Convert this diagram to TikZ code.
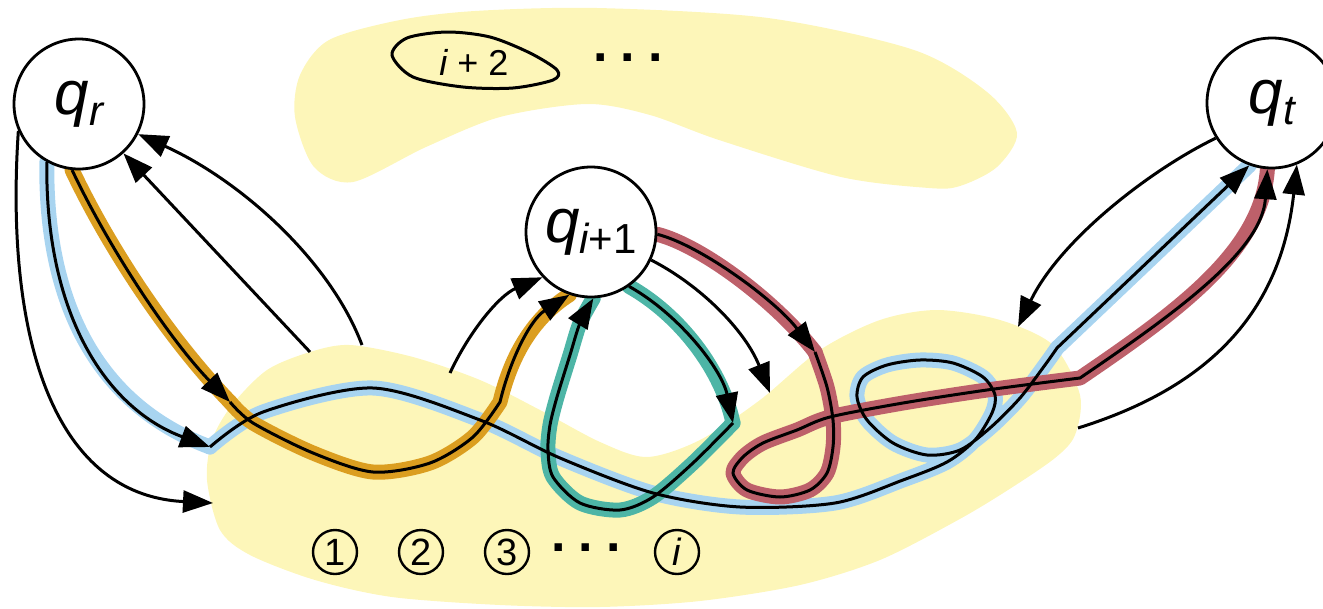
\documentclass[tikz,border=0pt]{standalone}
\usepackage{fontspec}
\setmainfont{Liberation Sans}
\usetikzlibrary{arrows.meta}
\pgfdeclarelayer{bg}
\pgfsetlayers{bg,main}
\definecolor{blobY}{RGB}{253,246,185}
\definecolor{bandB}{RGB}{168,212,240}
\definecolor{bandO}{RGB}{219,158,32}
\definecolor{bandG}{RGB}{77,181,166}
\definecolor{bandR}{RGB}{189,96,106}
\newcommand{\qlab}[1]{{\fontsize{62}{62}\selectfont\itshape q}\raisebox{-11pt}{\fontsize{42}{42}\selectfont #1}}
\tikzset{
  state/.style={circle,draw,line width=2.8pt,fill=white,minimum size=130pt,inner sep=0pt},
  num/.style={circle,draw,line width=2.4pt,minimum size=44pt,inner sep=0pt,font=\fontsize{38}{38}\selectfont},
  lab/.style={inner sep=0pt,font=\fontsize{36}{36}\selectfont},
  dotrow/.style={inner sep=0pt,font=\fontsize{52}{52}\selectfont\bfseries},
  conn/.style={line width=3pt,-{Triangle[length=30pt,width=22pt]}},
  band/.style={line width=15pt,line cap=round,line join=round},
}
\begin{document}
\begin{tikzpicture}[x=1pt,y=-1pt]
\useasboundingbox (0,0) rectangle (1323,608);
% states
\node[state] (qr) at (79,104) {\qlab{\itshape r}};
\node[state] (qi) at (591,232) {\qlab{{\itshape i}+1}};
\node[state] (qt) at (1272,103) {\qlab{\itshape t}};
% free ends
\coordinate (c1) at (310,352);
\coordinate (c2) at (362,345);
\coordinate (c3) at (213,503);
\coordinate (c4) at (450,373);
\coordinate (c5) at (770,393);
\coordinate (c6) at (1018,327);
\coordinate (c7) at (1078,428);
\coordinate (kb) at (210,447);
\coordinate (ko) at (230,402);
\coordinate (kg) at (733,423);
\coordinate (kr) at (815,352);
% labels
\node[num] (n1) at (335,552) {1};
\node[num] (n2) at (421,552) {2};
\node[num] (n3) at (507,552) {3};
\node[dotrow] (d1) at (586,548) {.\hspace{13pt}.\hspace{13pt}.};
\node[num] (ni) at (677,552) {\itshape i};
\node[lab] (i2) at (474,62) {{\itshape i} + 2};
\node[dotrow] (d2) at (628,58) {.\hspace{13pt}.\hspace{13pt}.};
\draw[line width=3pt] plot[smooth cycle] coordinates {(392,55) (407,38) (447,32) (490,37) (530,53) (557,70) (553,80) (513,88) (463,87) (413,77)};
% paths
\def\pBlueA{(qr.241) .. controls (45,320) and (110,410) .. (kb)}
\def\pBlueB{plot[smooth] coordinates {(kb) (263,412) (373,388) (480,420) (560,458) (653,493) (740,507) (835,503) (903,480) (947,462) (975,440) (992,413) (995,395) (983,377) (953,363) (920,360) (887,365) (863,377) (857,397) (867,420) (893,443) (927,455) (960,450) (990,428) (1020,398) (1045,365) (1057,348)} -- (qt.250)}
\def\pOrA{(qr.264) .. controls (110,250) and (170,340) .. (ko)}
\def\pOrB{plot[smooth] coordinates {(ko) (253,423) (313,453) (373,472) (430,463) (473,437) (500,402)} .. controls (510,360) and (530,320) .. (qi.251)}
\def\pGrA{(qi.305) .. controls (680,315) and (722,370) .. (kg)}
\def\pGrB{plot[smooth] coordinates {(kg) (693,463) (653,497) (620,510) (580,503) (553,477) (548,450) (550,425) (557,397) (570,355) (580,323) (qi.272)}}
\def\pRedA{(qi.-2) .. controls (700,245) and (775,300) .. (kr)}
\def\pRedB{plot[smooth] coordinates {(kr) (827,387) (833,420) (833,447) (827,473) (810,490) (780,497) (747,490) (733,473) (743,457) (763,443) (797,430) (830,417) (903,403) (987,390) (1080,378)} .. controls (1180,310) and (1262,250) .. (qt.266)}
\begin{pgfonlayer}{bg}
\fill[blobY] plot[smooth cycle] coordinates {(207,480) (212,440) (232,405) (267,370) (310,352) (350,345) (413,357) (480,380) (540,410) (600,442) (647,457) (700,440) (760,400) (820,350) (880,320) (937,310) (1000,320) (1053,345) (1080,395) (1075,435) (1055,458) (1008,490) (958,520) (880,560) (800,585) (700,601) (600,607) (500,605) (392,597) (315,580) (250,555) (220,530)};
\fill[blobY] plot[smooth cycle] coordinates {(295,117) (300,75) (329,40) (400,20) (475,11) (597,8) (768,18) (914,50) (987,92) (1017,133) (997,167) (960,186) (929,188) (841,177) (719,140) (650,115) (587,104) (500,117) (426,147) (353,182) (314,167)};
\draw[band,bandB] \pBlueA;
\draw[band,bandB] \pBlueB;
\draw[band,bandO] \pOrA;
\draw[band,bandO] \pOrB;
\draw[band,bandG] \pGrA;
\draw[band,bandG] \pGrB;
\draw[band,bandR] \pRedA;
\draw[band,bandR] \pRedB;
\draw[conn] \pBlueA;
\draw[conn] \pBlueB;
\draw[conn] \pOrA;
\draw[conn] \pOrB;
\draw[conn] \pGrA;
\draw[conn] \pGrB;
\draw[conn] \pRedA;
\draw[conn] \pRedB;
\draw[conn] (c1) -- (qr.312);
\draw[conn] (c2) .. controls (330,260) and (240,180) .. (qr.333);
\draw[conn] (qr.204) .. controls (5,330) and (50,495) .. (c3);
\draw[conn] (c4) .. controls (470,330) and (500,295) .. (qi.223);
\draw[conn] (qi.335) .. controls (700,285) and (745,330) .. (c5);
\draw[conn] (qt.212) .. controls (1150,170) and (1060,240) .. (c6);
\draw[conn] (c7) .. controls (1200,390) and (1280,320) .. (qt.292);
\end{pgfonlayer}
\end{tikzpicture}
\end{document}
